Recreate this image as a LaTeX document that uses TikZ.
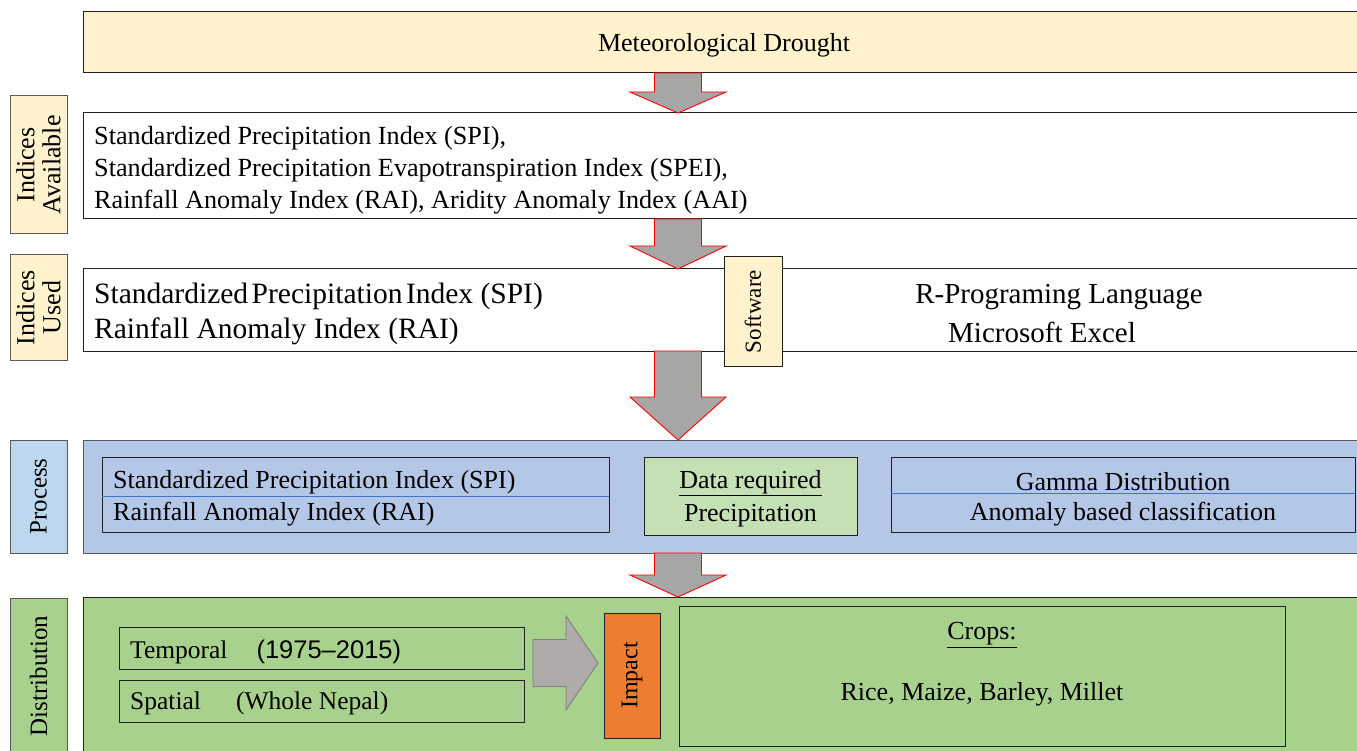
\documentclass[tikz,border=0pt]{standalone}
\usepackage{fontspec}
\usepackage{graphicx}
\setmainfont{Liberation Serif}
\newfontfamily\sansdigits{Liberation Sans}
\usetikzlibrary{calc}

\definecolor{creamfill}{HTML}{FFF2CC}
\definecolor{procfill}{HTML}{B4C7E7}
\definecolor{procside}{HTML}{BDD7EE}
\definecolor{datafill}{HTML}{C5E0B4}
\definecolor{distfill}{HTML}{A9D18E}
\definecolor{impactfill}{HTML}{ED7D31}
\definecolor{arrowgray}{HTML}{A6A6A6}
\definecolor{arrowred}{HTML}{FF0000}
\definecolor{sidegray}{HTML}{AFABAB}
\definecolor{sideedge}{HTML}{7F7F7F}
\definecolor{divider}{HTML}{4472C4}
\definecolor{edge}{HTML}{202020}
\definecolor{softedge}{HTML}{595959}

\tikzset{
  panel/.style={draw=edge, line width=1pt, anchor=north west, inner sep=0pt, outer sep=0pt},
  sidelabel/.style={panel, draw=softedge},
  vtext/.style={rotate=90, align=center, inner sep=0pt},
  label26/.style={font=\fontsize{26}{26}\selectfont},
  body/.style={inner sep=0pt, yshift=-3pt, font=\fontsize{26}{31}\selectfont},
  blockarrow/.style={fill=arrowgray, draw=arrowred, line width=0.9pt, line join=miter},
  rightarrow/.style={fill=sidegray, draw=sideedge, line width=0.9pt, line join=miter},
  dividerline/.style={draw=divider, line width=0.9pt}
}

% downward block arrow: #1 start point, #2 tip point, #3 head length
\newcommand{\vblockarrow}[3]{%
  \draw[blockarrow] ($(#1)+(-23.5,0)$) -- ($(#2)+(-23.5,-#3)$) -- ($(#2)+(-48,-#3)$)
    -- (#2) -- ($(#2)+(48,-#3)$) -- ($(#2)+(23.5,-#3)$) -- ($(#1)+(23.5,0)$) -- cycle;}

\begin{document}
\begin{tikzpicture}[x=1pt,y=-1pt]
\useasboundingbox (0,0) rectangle (1357,751);
\clip (0,0) rectangle (1357,751);
\fill[white] (0,0) rectangle (1357,751);

\coordinate (ax) at (678,0);

% ---- Meteorological drought
\node[panel, fill=creamfill, minimum width=1282, minimum height=61] (drought) at (83,12) {};
\node[body] (droughttxt) at (drought.center) {Meteorological Drought};

% ---- Indices available
\node[sidelabel, fill=creamfill, minimum width=57, minimum height=138] (availlabel) at (10,96) {};
\node[vtext, label26] (availlabeltxt) at (availlabel.center) {Indices\\Available};
\node[panel, fill=white, minimum width=1282, minimum height=106] (avail) at (83,113) {};
\node[body, anchor=west, align=left, font=\fontsize{26.2}{32}\selectfont] (availtxt) at (94,167)
  {Standardized Precipitation Index (SPI),\\
   Standardized Precipitation Evapotranspiration Index (SPEI),\\
   Rainfall Anomaly Index (RAI), Aridity Anomaly Index (AAI)};

% ---- Indices used
\node[sidelabel, fill=creamfill, minimum width=57, minimum height=105] (usedlabel) at (10,255) {};
\node[vtext, label26] (usedlabeltxt) at (usedlabel.center) {Indices\\Used};
\node[panel, fill=white, minimum width=1282, minimum height=82] (used) at (83,269) {};
\node[body, anchor=west, align=left, font=\fontsize{29.5}{35}\selectfont] (usedtxt) at (94,311)
  {Standardized\hspace{0.12em}Precipitation\hspace{0.12em}Index (SPI)\\
   Rainfall Anomaly Index (RAI)};
\node[panel, fill=creamfill, minimum width=58, minimum height=109] (software) at (724,257) {};
\node[vtext, font=\fontsize{23}{23}\selectfont] (softwaretxt) at (software.center) {Software};
\node[body, font=\fontsize{29}{35}\selectfont] (rlang) at (1059,294) {R-Programing Language};
\node[body, font=\fontsize{29}{35}\selectfont] (excel) at (1042,329) {Microsoft Excel};

% ---- Process
\node[sidelabel, fill=procside, minimum width=57, minimum height=113] (proclabel) at (10,440) {};
\node[vtext, font=\fontsize{25}{25}\selectfont] (proclabeltxt) at (proclabel.center) {Process};
\node[panel, draw=softedge, fill=procfill, minimum width=1282, minimum height=113] (proc) at (83,440) {};
\coordinate (procrow1) at (0,479);
\coordinate (procrow2) at (0,511);

\node[panel, fill=procfill, minimum width=507, minimum height=75] (idx) at (102,457) {};
\draw[dividerline] ($(idx.north west)!0.52!(idx.south west)$) -- ($(idx.north east)!0.52!(idx.south east)$);
\node[body, anchor=west] (idxspi) at (113,479) {Standardized Precipitation Index (SPI)};
\node[body, anchor=west] (idxrai) at (113,511) {Rainfall Anomaly Index (RAI)};

\node[panel, fill=datafill, minimum width=213, minimum height=78] (data) at (644,457) {};
\node[body] (datahead) at ($(data.center |- procrow1)+(0,1)$) {\underline{Data required}};
\node[body] (dataprec) at ($(data.center |- procrow2)+(0,2)$) {Precipitation};

\node[panel, fill=procfill, minimum width=464, minimum height=75] (gamma) at (891,457) {};
\draw[dividerline] ($(gamma.north west)!0.49!(gamma.south west)$) -- ($(gamma.north east)!0.49!(gamma.south east)$);
\node[body] (gammatxt) at (gamma.center |- procrow1) {Gamma Distribution};
\node[body] (anomtxt) at (gamma.center |- procrow2) {Anomaly based classification};

% ---- Distribution
\node[sidelabel, fill=distfill, minimum width=57, minimum height=200] (distlabel) at (10,598) {};
\node[vtext, font=\fontsize{25}{25}\selectfont] (distlabeltxt) at (38.5,676) {Distribution};
\node[panel, fill=distfill, minimum width=1282, minimum height=200] (dist) at (83,597) {};

\node[panel, fill=distfill, minimum width=405, minimum height=42] (temporal) at (119,627) {};
\node[body, anchor=west, font=\fontsize{25.5}{30}\selectfont] (temporaltxt) at (130,649)
  {Temporal\hspace*{29pt}{\sansdigits (1975–2015)}};
\node[panel, fill=distfill, minimum width=405, minimum height=42] (spatial) at (119,680) {};
\node[body, anchor=west, font=\fontsize{25.5}{30}\selectfont] (spatialtxt) at (130,700)
  {Spatial\hspace*{35pt}(Whole Nepal)};

\node[panel, fill=impactfill, minimum width=56, minimum height=125] (impact) at (604,613) {};
\node[vtext, font=\fontsize{24}{24}\selectfont] (impacttxt) at (impact.center) {Impact};

\node[panel, fill=distfill, minimum width=606, minimum height=140] (crops) at (679,606) {};
\coordinate (cropsrow1) at (0,632);
\coordinate (cropsrow2) at (0,691);
\node[body] (cropshead) at (crops.center |- cropsrow1) {\underline{Crops:}};
\node[body] (cropslist) at (crops.center |- cropsrow2) {Rice, Maize, Barley, Millet};

% ---- block arrows between the stages
\vblockarrow{ax |- drought.south}{ax |- avail.north}{21}
\vblockarrow{ax |- avail.south}{ax |- used.north}{23}
\vblockarrow{ax |- used.south}{ax |- proc.north}{43}
\vblockarrow{ax |- proc.south}{ax |- dist.north}{22}

% ---- arrow from distribution boxes to impact
\coordinate (sidestart) at (533,663);
\coordinate (sidetip) at ($(impact.west |- sidestart)+(-6,0)$);
\draw[rightarrow] ($(sidestart)+(0,-23.5)$) -- ($(sidetip)+(-32,-23.5)$) -- ($(sidetip)+(-32,-47)$)
  -- (sidetip) -- ($(sidetip)+(-32,47)$) -- ($(sidetip)+(-32,23.5)$) -- ($(sidestart)+(0,23.5)$) -- cycle;
\end{tikzpicture}
\end{document}
